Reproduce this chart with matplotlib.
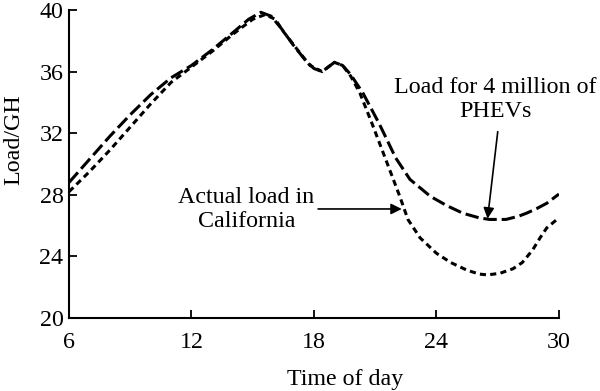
import matplotlib
matplotlib.use("Agg")
import matplotlib.pyplot as plt

# PHEV load (long dash)
phev_hours = [6, 7, 8, 9, 10, 11, 12, 13, 14, 14.8, 15.4, 15.9, 16.4, 17.0, 17.6, 18.0, 18.4,
              18.7, 19.0, 19.4, 19.8, 20.4, 21.2, 22.0, 22.7, 23.7, 24.5, 25.3, 26.1, 26.6,
              27.4, 28.0, 28.4, 28.9, 29.4, 30.0]
phev_load = [28.8, 30.3, 31.8, 33.2, 34.5, 35.6, 36.4, 37.4, 38.5, 39.4, 39.85, 39.6, 38.8,
             37.7, 36.7, 36.2, 36.0, 36.3, 36.6, 36.4, 35.8, 34.6, 32.6, 30.4, 29.0, 27.9,
             27.3, 26.8, 26.5, 26.4, 26.4, 26.6, 26.8, 27.1, 27.45, 28.05]

# Actual load in California (short dash)
actual_hours = [6, 7, 8, 9, 10, 11, 12, 13, 14, 15, 15.6, 16.1, 16.5, 17.2, 17.8, 18.4, 18.7,
                19.0, 19.4, 19.8, 20.25, 20.85, 21.57, 22.2, 22.6, 23.2, 24.0, 24.7, 25.5,
                26.1, 26.5, 27.1, 27.75, 28.2, 28.7, 29.07, 29.4, 29.9]
actual_load = [28.2, 29.5, 30.9, 32.4, 33.9, 35.3, 36.3, 37.3, 38.4, 39.4, 39.7, 39.4, 38.6,
               37.4, 36.4, 36.0, 36.3, 36.6, 36.4, 35.7, 34.6, 32.6, 30.1, 27.9, 26.4, 25.2,
               24.2, 23.6, 23.1, 22.85, 22.8, 22.9, 23.2, 23.6, 24.4, 25.2, 25.85, 26.4]

x_ticks = [6, 12, 18, 24, 30]
y_ticks = [20, 24, 28, 32, 36, 40]

plt.rcParams['font.family'] = ['Liberation Serif', 'DejaVu Serif']
FS = 17.3

fig = plt.figure(figsize=(6.0, 3.91), dpi=100)
ax = fig.add_axes([69/600, 1-318/391, 490/600, 308/391])

ax.plot(phev_hours, phev_load, color='black', lw=2.2, dashes=(4.4, 1.6),
        solid_capstyle='butt', dash_capstyle='butt')
ax.plot(actual_hours, actual_load, color='black', lw=2.2, dashes=(2.0, 1.4),
        solid_capstyle='butt', dash_capstyle='butt')

ax.set_xlim(6, 30)
ax.set_ylim(20, 40)
ax.set_xticks(x_ticks)
ax.set_yticks(y_ticks)
ax.tick_params(direction='in', length=6, width=1.3, labelsize=FS)
ax.tick_params(axis='x', pad=10)
ax.tick_params(axis='y', pad=4)
for s in ['top', 'right']:
    ax.spines[s].set_visible(False)
for s in ['left', 'bottom']:
    ax.spines[s].set_linewidth(1.5)

ax.set_xlabel('Time of day', fontsize=FS)
ax.xaxis.set_label_coords(0.563, -0.165)
ax.set_ylabel('Load/GH', fontsize=FS)
ax.yaxis.set_label_coords(-0.092, 0.578)

ax.text(26.9, 34.2, 'Load for 4 million of\nPHEVs', fontsize=FS, ha='center', va='center',
        linespacing=1.15)
ax.annotate('', xy=(26.5, 26.45), xytext=(27.0, 32.1),
            arrowprops=dict(arrowstyle='-|>', color='black', lw=1.2, mutation_scale=16,
                            shrinkA=0, shrinkB=0))

ax.text(14.7, 27.05, 'Actual load in\nCalifornia', fontsize=FS, ha='center', va='center',
        linespacing=1.15)
ax.annotate('', xy=(22.3, 27.08), xytext=(18.2, 27.08),
            arrowprops=dict(arrowstyle='-|>', color='black', lw=1.2, mutation_scale=16,
                            shrinkA=0, shrinkB=0))

fig.savefig('out.png', dpi=100)
